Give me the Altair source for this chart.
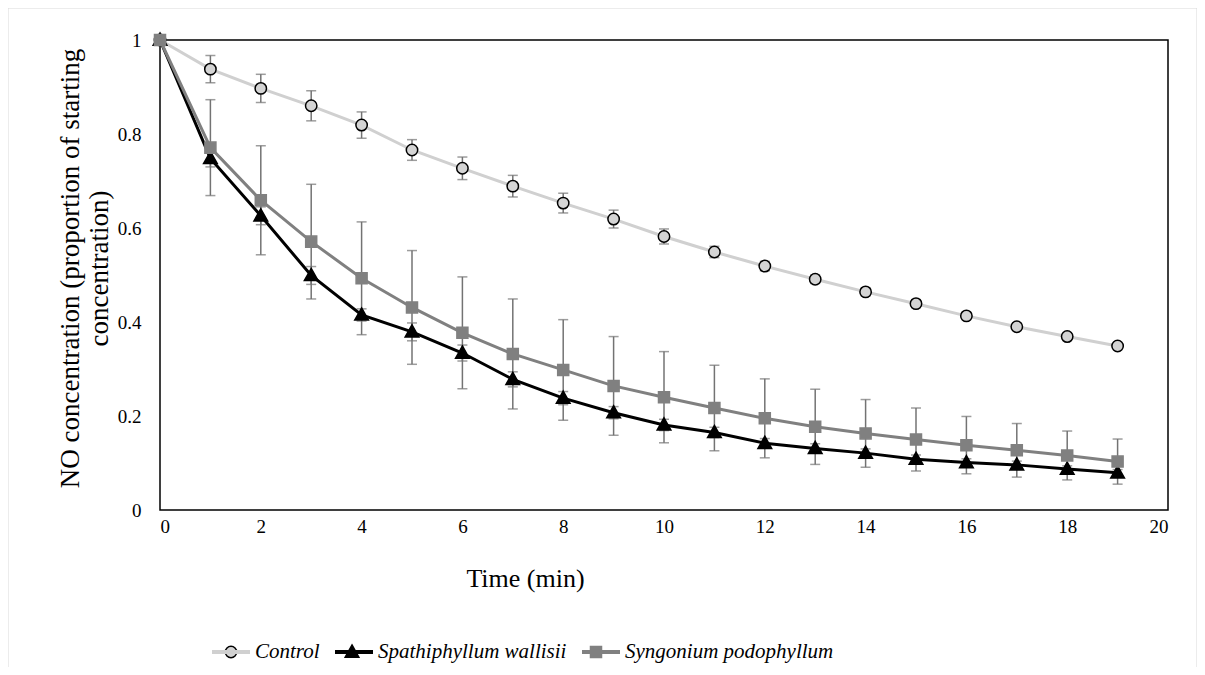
import altair as alt
import pandas as pd

# ---- data ----
time_min = list(range(20))
series_names = ["Control", "Spathiphyllum wallisii", "Syngonium podophyllum"]

control = [1, 0.938, 0.897, 0.860, 0.819, 0.766, 0.727, 0.689, 0.653, 0.619,
           0.582, 0.549, 0.519, 0.491, 0.464, 0.439, 0.413, 0.390, 0.369, 0.349]
control_err = [0, 0.029, 0.030, 0.032, 0.028, 0.022, 0.024, 0.023, 0.021, 0.019,
               0.016, 0.012, 0.010, 0.009, 0.008, 0.008, 0.007, 0.007, 0.006, 0.006]

spathiphyllum = [1, 0.748, 0.626, 0.499, 0.415, 0.379, 0.334, 0.278, 0.238, 0.207,
                 0.181, 0.165, 0.142, 0.131, 0.121, 0.108, 0.101, 0.096, 0.087, 0.079]
spathiphyllum_err = [0, 0.018, 0.019, 0.019, 0.013, 0.019, 0.017, 0.016, 0.014, 0.013,
                     0.012, 0.011, 0.010, 0.010, 0.009, 0.009, 0.008, 0.008, 0.007, 0.007]

syngonium = [1, 0.771, 0.659, 0.571, 0.493, 0.431, 0.377, 0.332, 0.298, 0.264,
             0.240, 0.217, 0.195, 0.177, 0.163, 0.150, 0.138, 0.127, 0.116, 0.103]
syngonium_err = [0, 0.102, 0.116, 0.122, 0.120, 0.121, 0.119, 0.117, 0.107, 0.105,
                 0.097, 0.091, 0.084, 0.080, 0.072, 0.067, 0.061, 0.057, 0.052, 0.048]

x_ticks = [0, 2, 4, 6, 8, 10, 12, 14, 16, 18, 20]
y_ticks = [0, 0.2, 0.4, 0.6, 0.8, 1]

# ---- long table ----
rows = []
for name, vals, errs in [(series_names[0], control, control_err),
                         (series_names[1], spathiphyllum, spathiphyllum_err),
                         (series_names[2], syngonium, syngonium_err)]:
    for t, v, e in zip(time_min, vals, errs):
        rows.append({"t": t, "value": v, "lo": v - e, "hi": v + e,
                     "series": name, "series_a": name, "series_b": name,
                     "series_c": name})
df = pd.DataFrame(rows)

FONT = "Liberation Serif"
SYM = 1444  # legend / marker nominal size -> sqrt = 38 px

# marker paths in [-1,1] space, scaled by sqrt(size)/2 = 19 px
circle_p = "M-0.3,0A0.3,0.3 0 1,1 0.3,0A0.3,0.3 0 1,1 -0.3,0Z"
tri_p = "M0,-0.37L0.36,0.27L-0.36,0.27Z"
square_p = "M-0.29,-0.29L0.29,-0.29L0.29,0.29L-0.29,0.29Z"
line_p = "M-1,-0.06L1,-0.06M-1,0L1,0M-1,0.06L1,0.06"

line_colors = ["#d0d0d0", "#000000", "#808080"]
fill_colors = ["#d4d4d4", "#000000", "#808080"]
stroke_colors = ["#000000", "#000000", "#808080"]
marker_paths = [circle_p, tri_p, square_p]

LEG_Y = 592
LEG_X = [51, 172, 416]

x_enc = alt.X("t:Q", scale=alt.Scale(domain=[0, 20], nice=False),
              axis=alt.Axis(values=x_ticks, title="Time (min)", domain=False, ticks=False,
                            grid=False, labelFont=FONT, labelFontSize=19, labelColor="black",
                            labelPadding=7, titleFont=FONT, titleFontSize=26,
                            titleFontWeight="normal", titleColor="black",
                            titleX=365, titleY=68, titleAlign="center",
                            titleBaseline="middle"))
y_enc = alt.Y("value:Q", scale=alt.Scale(domain=[0, 1], nice=False),
              axis=alt.Axis(values=y_ticks, format="~g",
                            title=["NO concentration (proportion of starting", "concentration)"],
                            domain=False, ticks=False, grid=False, labelFont=FONT,
                            labelFontSize=19, labelColor="black", labelPadding=19,
                            titleFont=FONT, titleFontSize=27, titleFontWeight="normal",
                            titleColor="black", titleAngle=-90, titleAlign="center",
                            titleBaseline="bottom", titleLineHeight=29,
                            titleX=-76, titleY=228))

base = alt.Chart(df)

err_rule = base.mark_rule(color="#737373", strokeWidth=1.5).encode(
    x="t:Q", y="lo:Q", y2="hi:Q")
cap_lo = base.mark_tick(color="#737373", orient="horizontal", size=10, thickness=1.5).encode(
    x="t:Q", y="lo:Q")
cap_hi = base.mark_tick(color="#737373", orient="horizontal", size=10, thickness=1.5).encode(
    x="t:Q", y="hi:Q")

line_legend = alt.Legend(orient="none", direction="horizontal", title=None, padding=0,
                         legendX=LEG_X[0], legendY=LEG_Y, symbolSize=SYM,
                         symbolStrokeWidth=1.5, symbolType=line_p,
                         labelFont=FONT, labelFontSize=21, labelFontStyle="italic",
                         labelColor="black", labelOffset=4, columnPadding=12,
                         labelLimit=400)

lines = base.mark_line(strokeWidth=3).encode(
    x=x_enc, y=y_enc,
    color=alt.Color("series:N", scale=alt.Scale(range=line_colors), legend=line_legend))


def marker_legend(i):
    return alt.Legend(orient="none", direction="horizontal", title=None, padding=0,
                      legendX=LEG_X[i], legendY=LEG_Y, symbolSize=SYM,
                      symbolStrokeWidth=1.5, values=[series_names[i]],
                      labelExpr="''", labelFontSize=21, symbolType=marker_paths[i],
                      symbolFillColor=fill_colors[i], symbolStrokeColor=stroke_colors[i],
                      symbolOpacity=1)


points = base.mark_point(filled=False, size=SYM, strokeWidth=1.5, opacity=1).encode(
    x="t:Q", y="value:Q",
    shape=alt.Shape("series_a:N", scale=alt.Scale(range=marker_paths),
                    legend=marker_legend(0)),
    fill=alt.Fill("series_b:N", scale=alt.Scale(range=fill_colors),
                  legend=marker_legend(1)),
    stroke=alt.Stroke("series_c:N", scale=alt.Scale(range=stroke_colors),
                      legend=marker_legend(2)))

border = alt.Chart(pd.DataFrame({"a": [0]})).mark_rect(
    fill=None, stroke="#d9d9d9", strokeWidth=1).encode(
    x=alt.value(-152), x2=alt.value(1037), y=alt.value(-32), y2=alt.value(660))

chart = alt.layer(border, err_rule, cap_lo, cap_hi, lines, points).resolve_scale(
    color="independent").properties(
    width=1008, height=470,
    autosize=alt.AutoSizeParams(type="none"),
    padding={"left": 152, "top": 32, "right": 29, "bottom": 157},
).configure(font=FONT, background="white").configure_view(
    stroke="black", strokeWidth=1.5).configure_axis(labelFont=FONT, titleFont=FONT)

chart.save("out.html", embed_options={"renderer": "svg", "actions": False})
